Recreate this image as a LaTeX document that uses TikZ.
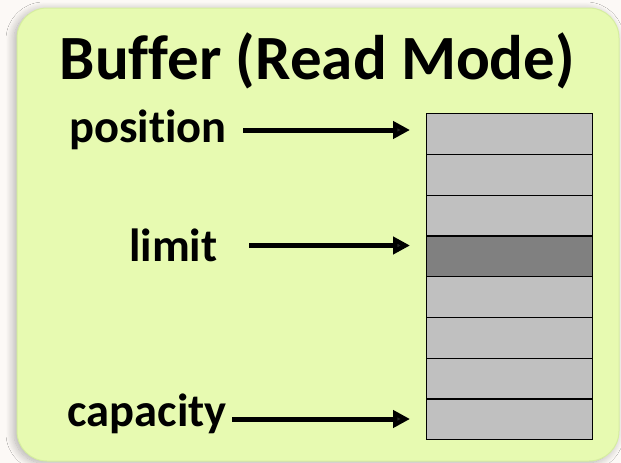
\documentclass[tikz,border=0pt]{standalone}
\usepackage{fontspec}
\setmainfont{Carlito}[Ligatures={NoCommon,NoRequired,NoContextual,NoRare}]
\usetikzlibrary{arrows.meta,shadows.blur}
\definecolor{bgpage}{RGB}{252,249,246}
\definecolor{boxfill}{RGB}{231,250,177}
\definecolor{boxedge}{RGB}{214,238,160}
\definecolor{cellgray}{RGB}{192,192,192}
\definecolor{celldark}{RGB}{128,128,128}
\tikzset{
  cellbox/.style={draw=black, line width=1.3pt, fill=cellgray, minimum width=166pt, minimum height=40.75pt, inner sep=0pt, anchor=north west},
  lbl/.style={font=\fontsize{46.5}{50}\selectfont\bfseries, inner sep=0pt, anchor=base west},
  arr/.style={line width=5pt, -{Triangle[length=17pt,width=17pt]}, shorten >=16pt}
}
\begin{document}
\begin{tikzpicture}[x=1pt,y=-1pt]
\useasboundingbox (0,0) rectangle (621,463);
\fill[bgpage] (0,0) rectangle (621,463);
\draw[boxedge, line width=1pt, fill=boxfill, rounded corners=30pt,
  blur shadow={shadow xshift=-3pt, shadow yshift=-2pt, shadow blur steps=14, shadow blur radius=8pt, shadow opacity=30}]
  (17,8) rectangle (619,461);
\node[font=\fontsize{63}{70}\selectfont\bfseries, inner sep=0pt, anchor=base] (title) at (317.5,79) {Buffer (Read Mode)};
\foreach \i in {1,...,8}{
  \node[cellbox] (c\i) at (426,{113+(\i-1)*40.75}) {};
}
\node[cellbox, fill=celldark] at (c4.north west) {};
\node[lbl] (pos) at (69,142.5) {position};
\node[lbl] (lim) at (129,261.5) {limit};
\node[lbl] (cap) at (67.5,426) {capacity};
\coordinate (p1) at (243,130);
\coordinate (p2) at (249,245.5);
\coordinate (p3) at (232,419);
\draw[arr] (p1) -- (p1 -| c1.west);
\draw[arr] (p2) -- (p2 -| c4.west);
\draw[arr] (p3) -- (p3 -| c8.west);
\end{tikzpicture}
\end{document}
